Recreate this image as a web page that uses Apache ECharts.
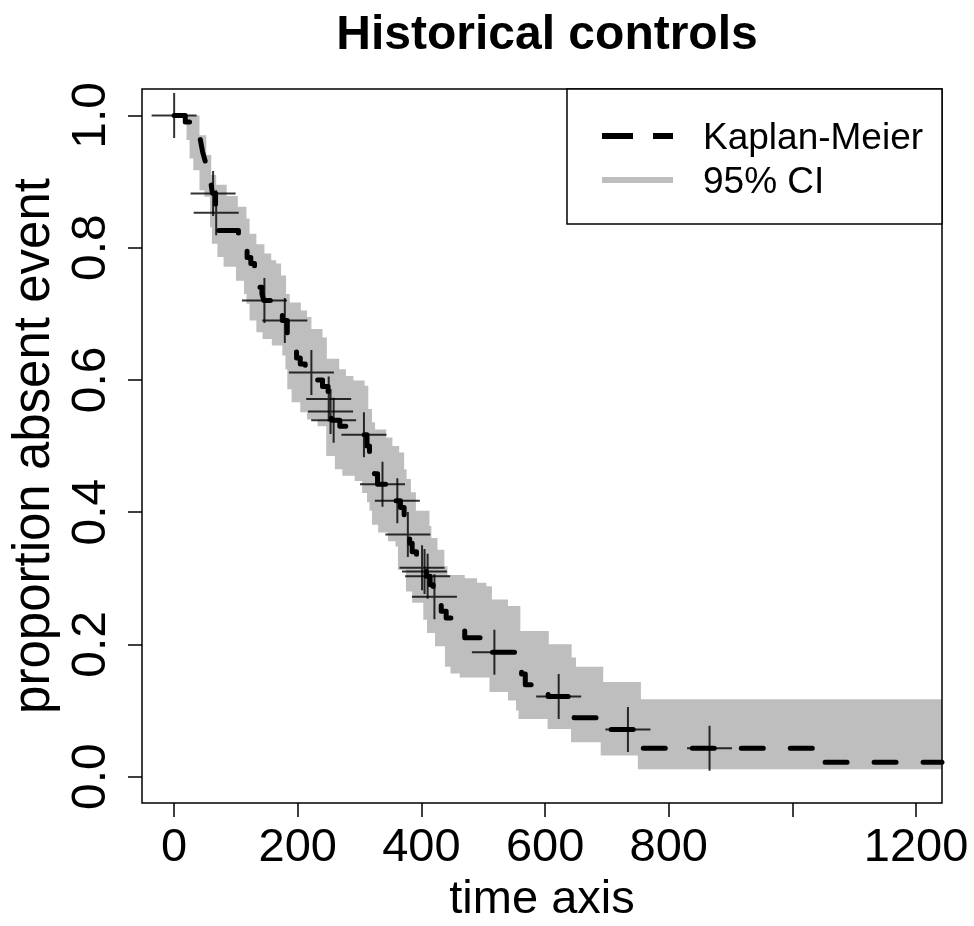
<!DOCTYPE html>
<html><head><meta charset="utf-8">
<script src="https://cdn.jsdelivr.net/npm/echarts@6/dist/echarts.min.js"></script>
<style>html,body{margin:0;padding:0;background:#fff}#c{width:974px;height:926px}</style>
</head><body><div id="c"></div>
<script>
// ---- data ----
const kmTime = [0, 18, 40, 42, 44, 46, 49, 52, 56, 59, 62, 67, 70, 72, 104, 109, 113, 118, 124, 130, 134, 138, 142, 145, 162, 168, 175, 183, 186, 192, 198, 204, 212, 226, 240, 249, 252, 255, 268, 285, 312, 316, 320, 324, 329, 350, 356, 366, 372, 375, 377, 381, 385, 392, 398, 404, 408, 414, 419, 425, 432, 440, 448, 470, 510, 514, 556, 562, 568, 605, 643, 647, 692, 754, 757, 1044];
const kmSurv = [1.0, 0.99, 0.975, 0.965, 0.955, 0.945, 0.935, 0.925, 0.912, 0.9, 0.882, 0.853, 0.84, 0.826, 0.812, 0.806, 0.795, 0.785, 0.776, 0.765, 0.752, 0.74, 0.73, 0.72, 0.71, 0.7, 0.69, 0.665, 0.652, 0.642, 0.633, 0.624, 0.611, 0.6, 0.59, 0.571, 0.552, 0.539, 0.53, 0.517, 0.5, 0.487, 0.472, 0.458, 0.442, 0.43, 0.417, 0.407, 0.392, 0.377, 0.366, 0.353, 0.34, 0.328, 0.316, 0.31, 0.303, 0.29, 0.272, 0.262, 0.25, 0.24, 0.22, 0.21, 0.2, 0.188, 0.172, 0.155, 0.139, 0.121, 0.104, 0.089, 0.071, 0.055, 0.043, 0.0215];
const lastTime = 1242;

const censorTime = [0, 63, 68, 146, 179, 222, 250, 253, 258, 307, 337, 361, 378, 401, 405, 410, 421, 518, 622, 734, 866];
const censorSurv = [1.0, 0.882, 0.853, 0.72, 0.69, 0.611, 0.571, 0.552, 0.539, 0.517, 0.442, 0.417, 0.366, 0.316, 0.31, 0.303, 0.272, 0.188, 0.121, 0.071, 0.043];

const upperTime = [0, 41, 52, 60, 68, 85, 103, 117, 122, 133, 146, 157, 165, 173, 181, 187, 205, 215, 222, 240, 247, 267, 278, 290, 308, 314, 320, 325, 343, 353, 364, 372, 376, 383, 391, 413, 416, 426, 437, 442, 470, 490, 505, 514, 540, 560, 606, 643, 650, 694, 755];
const upperVal  = [1.0, 0.97, 0.94, 0.91, 0.895, 0.878, 0.862, 0.844, 0.821, 0.805, 0.791, 0.781, 0.776, 0.758, 0.73, 0.717, 0.705, 0.695, 0.677, 0.664, 0.632, 0.616, 0.606, 0.599, 0.591, 0.556, 0.536, 0.525, 0.513, 0.5, 0.49, 0.465, 0.45, 0.43, 0.402, 0.379, 0.361, 0.343, 0.318, 0.305, 0.3, 0.293, 0.288, 0.268, 0.258, 0.22, 0.2, 0.18, 0.166, 0.143, 0.117];

const lowerTime = [0, 20, 25, 31, 41, 49, 58, 61, 70, 80, 100, 113, 117, 122, 133, 143, 158, 175, 180, 183, 190, 204, 215, 232, 246, 260, 272, 292, 304, 312, 316, 320, 330, 346, 358, 362, 375, 385, 403, 409, 422, 438, 447, 462, 510, 540, 553, 557, 604, 642, 690, 750];
const lowerVal  = [1.0, 0.963, 0.935, 0.917, 0.887, 0.877, 0.831, 0.806, 0.786, 0.771, 0.75, 0.73, 0.715, 0.69, 0.672, 0.662, 0.652, 0.637, 0.616, 0.586, 0.566, 0.551, 0.54, 0.53, 0.485, 0.465, 0.455, 0.447, 0.429, 0.415, 0.402, 0.381, 0.369, 0.356, 0.348, 0.313, 0.28, 0.263, 0.237, 0.217, 0.197, 0.166, 0.156, 0.15, 0.128, 0.115, 0.1, 0.087, 0.072, 0.052, 0.032, 0.011];

const xTicks = [0, 200, 400, 600, 800, 1000, 1200];
const xTickLabels = [0, 200, 400, 600, 800, 1200];
const yTicks = [0, 0.2, 0.4, 0.6, 0.8, 1.0];

const legendNames = ['Kaplan-Meier', '95% CI'];

// ---- layout ----
const GL = 142, GT = 89, GW = 800, GH = 714;
const FONT = 'Liberation Sans, Arial, Helvetica, sans-serif';

function pairs(ts, vs) { return ts.map((t, i) => [t, vs[i]]); }
const kmData = pairs(kmTime, kmSurv).concat([[lastTime, kmSurv[kmSurv.length - 1]]]);
const censorData = pairs(censorTime, censorSurv);

function stepPts(api, ts, vs) {
  const pts = [];
  for (let i = 0; i < ts.length; i++) {
    const tNext = i + 1 < ts.length ? ts[i + 1] : lastTime;
    pts.push(api.coord([ts[i], vs[i]]));
    pts.push(api.coord([tNext, vs[i]]));
  }
  return pts;
}

const crossPath = 'path://M-1,-22.5 L1,-22.5 L1,-1 L22.5,-1 L22.5,1 L1,1 L1,22.5 L-1,22.5 L-1,1 L-22.5,1 L-22.5,-1 L-1,-1 Z';

const chart = echarts.init(document.getElementById('c'), null, { renderer: 'canvas' });
chart.setOption({
  animation: false,
  backgroundColor: '#fff',
  title: {
    text: 'Historical controls',
    left: GL + GW / 2, textAlign: 'center', top: 7,
    textStyle: { fontFamily: FONT, fontWeight: 'bold', fontSize: 48, color: '#000' }
  },
  grid: { left: GL, top: GT, width: GW, height: GH, show: false, containLabel: false, outerBoundsMode: 'none' },
  xAxis: {
    type: 'value', min: -52, max: lastTime,
    axisLine: { show: false, onZero: false }, splitLine: { show: false },
    axisTick: { show: true, length: 14, customValues: xTicks, lineStyle: { color: '#000', width: 1.5 } },
    axisLabel: { customValues: xTickLabels, margin: 22, fontSize: 47, fontFamily: FONT, color: '#000',
                 formatter: v => String(v) },
    name: 'time axis', nameLocation: 'middle', nameGap: 73,
    nameTextStyle: { fontSize: 47, fontFamily: FONT, color: '#000' }
  },
  yAxis: {
    type: 'value', min: -0.04, max: 1.04,
    axisLine: { show: false, onZero: false }, splitLine: { show: false },
    axisTick: { show: true, length: 14, customValues: yTicks, lineStyle: { color: '#000', width: 1.5 } },
    axisLabel: { customValues: yTicks, rotate: 90, margin: 26, fontSize: 48, fontFamily: FONT, color: '#000',
                 formatter: v => v.toFixed(1) },
    name: 'proportion absent event', nameLocation: 'middle', nameGap: 68, nameRotate: 90,
    nameTextStyle: { fontSize: 51, fontFamily: FONT, color: '#000' }
  },
  series: [
    {
      name: legendNames[1], type: 'custom', z: 1, clip: true,
      data: [0],
      renderItem: function (params, api) {
        const up = stepPts(api, upperTime, upperVal);
        const lo = stepPts(api, lowerTime, lowerVal).reverse();
        return { type: 'polygon', shape: { points: up.concat(lo) }, style: { fill: '#BEBEBE', stroke: null } };
      }
    },
    {
      name: legendNames[0], type: 'line', step: 'end', z: 3, symbol: 'none', data: kmData,
      lineStyle: { color: '#000', width: 5, type: [22, 27], cap: 'round', join: 'round' }
    },
    {
      name: 'censored', type: 'scatter', z: 4, data: censorData,
      symbol: crossPath, symbolSize: 45, itemStyle: { color: '#000' }
    }
  ],
  graphic: [
    { type: 'rect', z: 100, silent: true, shape: { x: GL, y: GT, width: GW, height: GH },
      style: { fill: null, stroke: '#000', lineWidth: 1.5 } },
    { type: 'rect', z: 100, silent: true, shape: { x: 567, y: GT, width: GL + GW - 567, height: 135 },
      style: { fill: '#fff', stroke: '#000', lineWidth: 1.5 } },
    { type: 'line', z: 101, silent: true, shape: { x1: 602, y1: 136, x2: 673, y2: 136 },
      style: { stroke: '#000', lineWidth: 6, lineDash: [31, 20] } },
    { type: 'line', z: 101, silent: true, shape: { x1: 602, y1: 180, x2: 673, y2: 180 },
      style: { stroke: '#BEBEBE', lineWidth: 6 } },
    { type: 'text', z: 101, silent: true, style: { x: 703, y: 139, text: legendNames[0], fontSize: 37, fontFamily: FONT, fill: '#000', verticalAlign: 'middle' } },
    { type: 'text', z: 101, silent: true, style: { x: 703, y: 183, text: legendNames[1], fontSize: 37, fontFamily: FONT, fill: '#000', verticalAlign: 'middle' } }
  ]
});
</script></body></html>
